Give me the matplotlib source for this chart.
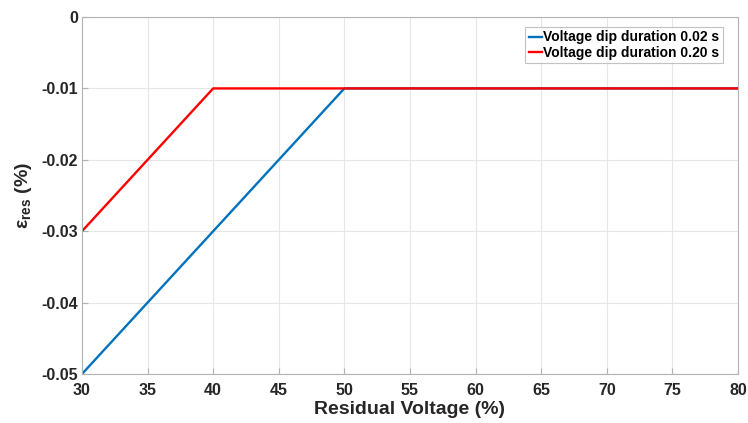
import matplotlib
matplotlib.use("Agg")
import matplotlib.pyplot as plt

plt.rcParams['font.family'] = ['Liberation Sans', 'DejaVu Sans']
plt.rcParams['mathtext.fontset'] = 'custom'
plt.rcParams['mathtext.rm'] = 'Liberation Sans:bold'
plt.rcParams['mathtext.bf'] = 'Liberation Sans:bold'

# Residual voltage (%) and residual error (%) for each dip duration
v_short = [30, 50, 80]
e_short = [-0.05, -0.01, -0.01]
v_long = [30, 40, 80]
e_long = [-0.03, -0.01, -0.01]
labels = ['Voltage dip duration 0.02 s', 'Voltage dip duration 0.20 s']
x_ticks = [30, 35, 40, 45, 50, 55, 60, 65, 70, 75, 80]
y_ticks = [-0.05, -0.04, -0.03, -0.02, -0.01, 0]
y_ticklabels = ['-0.05', '-0.04', '-0.03', '-0.02', '-0.01', '0']

fig = plt.figure(figsize=(7.48, 4.23), dpi=100)
ax = fig.add_axes([0.1096, 0.1158, 0.877, 0.8440])

ax.plot(v_short, e_short, color='#0072BD', lw=1.7, label=labels[0])
ax.plot(v_long, e_long, color='#FF0000', lw=1.7, label=labels[1])

ax.set_xlim(30, 80)
ax.set_ylim(-0.05, 0)
ax.set_xticks(x_ticks)
ax.set_yticks(y_ticks)
ax.set_yticklabels(y_ticklabels)
ax.grid(True, color='#e6e6e6', lw=0.8)
ax.set_axisbelow(True)
for s in ax.spines.values():
    s.set_color('#b3b3b3')
    s.set_linewidth(0.8)
ax.tick_params(direction='in', length=4, color='#b3b3b3', labelsize=11.5,
               labelcolor='#262626')
ax.tick_params(axis='x', pad=6.5)
ax.tick_params(axis='y', pad=3)
for t in ax.get_xticklabels() + ax.get_yticklabels():
    t.set_fontweight('bold')

ax.set_xlabel('Residual Voltage (%)', fontsize=14, fontweight='bold', color='#262626', labelpad=2)
ax.set_ylabel(r'ε$_{\mathbf{res}}$ (%)', fontsize=14, fontweight='bold', color='#262626', labelpad=5)

leg = ax.legend(loc='upper right', bbox_to_anchor=(0.9772, 0.972),
                prop={'weight': 'bold', 'size': 10}, frameon=True, fancybox=False,
                handlelength=0.95, handletextpad=0.1, borderpad=0.25, labelspacing=0.1,
                borderaxespad=0)
leg.get_frame().set_edgecolor('#b3b3b3')
leg.get_frame().set_linewidth(0.8)

fig.savefig('out.png', dpi=100)
